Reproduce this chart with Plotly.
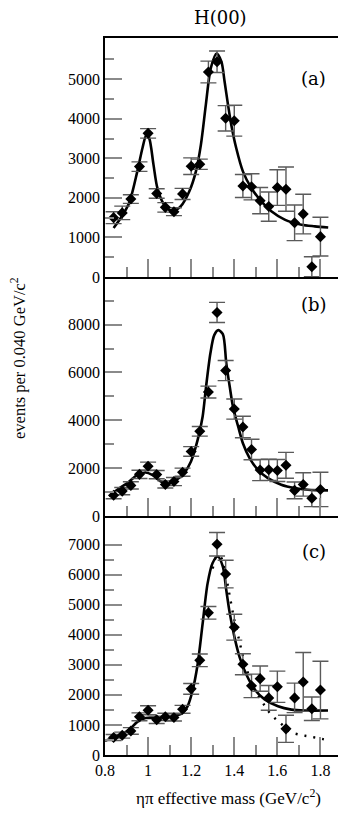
import plotly.graph_objects as go
from plotly.subplots import make_subplots

# bin centres (GeV/c^2), 0.040 wide bins
mass = [0.84, 0.88, 0.92, 0.96, 1.00, 1.04, 1.08, 1.12, 1.16, 1.20, 1.24, 1.28, 1.32,
        1.36, 1.40, 1.44, 1.48, 1.52, 1.56, 1.60, 1.64, 1.68, 1.72, 1.76, 1.80]

# panel (a)
events_a = [1500, 1620, 1970, 2790, 3630, 2110, 1760, 1650, 2100, 2800, 2850, 5180, 5440,
            4010, 3950, 2300, 2280, 1930, 1780, 2260, 2220, 1370, 1590, 260, 1020]
err_a = [150, 170, 110, 120, 120, 120, 120, 100, 140, 210, 130, 275, 270,
         320, 390, 290, 330, 330, 370, 450, 560, 450, 500, 250, 490]
fit_a_x = [0.84, 0.873, 0.912, 0.95, 0.974, 0.992, 1.005, 1.025, 1.043, 1.074, 1.113, 1.152,
           1.191, 1.222, 1.245, 1.268, 1.291, 1.318, 1.34, 1.355, 1.371, 1.386, 1.409, 1.44,
           1.479, 1.526, 1.572, 1.634, 1.712, 1.774, 1.836]
fit_a_y = [1240, 1490, 1870, 2670, 3260, 3590, 3510, 2840, 2250, 1830, 1660, 1790,
           2160, 2670, 3340, 4350, 5280, 5650, 5450, 4940, 4350, 3850, 3260, 2670,
           2250, 1910, 1660, 1450, 1320, 1280, 1250]

# panel (b)
events_b = [870, 1040, 1280, 1740, 2080, 1730, 1320, 1440, 1830, 2700, 3540, 5180, 8510,
            6080, 4470, 3720, 2780, 1920, 1930, 1900, 2120, 1070, 1320, 740, 1110]
err_b = [150, 150, 150, 170, 170, 170, 150, 170, 170, 200, 200, 250, 420,
         420, 420, 450, 430, 440, 440, 460, 540, 350, 490, 350, 720]
fit_b_x = [0.819, 0.857, 0.904, 0.95, 0.988, 1.019, 1.058, 1.089, 1.128, 1.167, 1.199,
           1.23, 1.253, 1.269, 1.289, 1.307, 1.326, 1.347, 1.363, 1.379, 1.394, 1.418,
           1.44, 1.471, 1.51, 1.556, 1.618, 1.68, 1.742, 1.835]
fit_b_y = [820, 1100, 1380, 1720, 1820, 1720, 1450, 1350, 1490, 1790, 2280,
           3180, 4150, 5400, 6790, 7560, 7770, 7600, 6380, 5400, 4570, 3740,
           3040, 2420, 1930, 1580, 1310, 1170, 1100, 1070]

# panel (c)
events_c = [580, 660, 800, 1270, 1490, 1170, 1270, 1250, 1520, 2200, 3150, 4730, 7010,
            6020, 4250, 3020, 2300, 2540, 1900, 2270, 870, 1900, 2430, 1540, 2160]
err_c = [100, 100, 110, 130, 150, 120, 120, 120, 130, 180, 210, 210, 390,
         460, 430, 350, 390, 420, 410, 520, 450, 490, 980, 390, 960]
fit_c_x = [0.80, 0.834, 0.873, 0.912, 0.95, 0.989, 1.027, 1.074, 1.121, 1.16, 1.183,
           1.206, 1.23, 1.253, 1.276, 1.299, 1.323, 1.347, 1.363, 1.378, 1.401, 1.425,
           1.456, 1.495, 1.541, 1.603, 1.665, 1.727, 1.835]
fit_c_y = [470, 560, 670, 840, 1100, 1230, 1230, 1250, 1290, 1400, 1620,
           2130, 3020, 4360, 5700, 6380, 6600, 6270, 5480, 4760, 3920, 3250,
           2680, 2180, 1850, 1620, 1510, 1480, 1480]
alt_c_x = [1.30, 1.32, 1.34, 1.36, 1.38, 1.40, 1.42, 1.44, 1.46, 1.48, 1.50, 1.533,
           1.57, 1.615, 1.657, 1.707, 1.746, 1.79, 1.83]
alt_c_y = [6200, 6620, 6550, 6000, 5250, 4500, 3900, 3300, 2800, 2400, 2100, 1730,
           1350, 1060, 780, 670, 620, 560, 500]

# y tick labels per panel
yticks_a = [0, 1000, 2000, 3000, 4000, 5000]
yticks_b = [0, 2000, 4000, 6000, 8000]
yticks_c = [0, 1000, 2000, 3000, 4000, 5000, 6000, 7000]
xtick_vals = [0.8, 1.0, 1.2, 1.4, 1.6, 1.8]
xtick_text = ["0.8", "1", "1.2", "1.4", "1.6", "1.8"]

panels = [
    ("(a)", events_a, err_a, fit_a_x, fit_a_y, 6040, yticks_a, 500),
    ("(b)", events_b, err_b, fit_b_x, fit_b_y, 9990, yticks_b, 1000),
    ("(c)", events_c, err_c, fit_c_x, fit_c_y, 7950, yticks_c, 500),
]

serif = "Liberation Serif"
tick_grey = "#8a8a8a"

fig = make_subplots(rows=3, cols=1, shared_xaxes=True, vertical_spacing=0)

for i, (label, ev, er, fx, fy, ymax, yt, half) in enumerate(panels):
    row = i + 1
    fig.add_trace(go.Scatter(
        x=fx, y=fy, mode="lines", line=dict(color="black", width=2.6, shape="spline", smoothing=0.8),
        showlegend=False, hoverinfo="skip"), row=row, col=1)
    if label == "(c)":
        fig.add_trace(go.Scatter(
            x=alt_c_x, y=alt_c_y, mode="lines",
            line=dict(color="black", width=2.4, dash="2px,7px", shape="spline"),
            showlegend=False, hoverinfo="skip"), row=row, col=1)
    fig.add_trace(go.Scatter(
        x=mass, y=ev, mode="markers",
        marker=dict(symbol="diamond", size=8.5, color="black"),
        error_y=dict(type="data", array=er, color="#5a5a5a", thickness=1.4, width=8),
        showlegend=False), row=row, col=1)

    # minor ticks halfway between the labelled ones
    minor_vals = [v + half for v in yt if v + half < ymax - 300]
    if label == "(c)":
        minor_vals = [v for v in minor_vals if v < 7000]
    fig.update_yaxes(
        range=[0, ymax], tickmode="array", tickvals=yt,
        ticktext=[str(v) for v in yt],
        ticks="inside", ticklen=17, tickwidth=2, tickcolor=tick_grey,
        minor=dict(tickmode="array", tickvals=minor_vals, ticks="inside",
                   ticklen=9, tickwidth=2, tickcolor=tick_grey),
        showline=True, linecolor="black", linewidth=1.5, mirror=True,
        showgrid=False, zeroline=False, automargin=False,
        tickfont=dict(family=serif, size=16, color="black"),
        row=row, col=1)

    # only the top panel mirrors its x line, so shared borders are drawn once
    fig.update_xaxes(
        range=[0.8, 1.9], tickmode="array", tickvals=xtick_vals, ticktext=xtick_text,
        ticks="inside", ticklen=18, tickwidth=2, tickcolor=tick_grey,
        minor=dict(dtick=0.1, tick0=0.8, ticks="inside", ticklen=10, tickwidth=2,
                   tickcolor=tick_grey),
        showline=True, linecolor="black", linewidth=1.5, mirror=(row == 1),
        showgrid=False, zeroline=False, showticklabels=(row == 3), automargin=False,
        tickfont=dict(family=serif, size=16, color="black"),
        row=row, col=1)

# panel letters
for label, ypos in [("(a)", 0.943), ("(b)", 0.6286), ("(c)", 0.2835)]:
    fig.add_annotation(text=label, xref="paper", yref="paper", x=0.881, y=ypos,
                       xanchor="center", yanchor="middle", showarrow=False,
                       font=dict(family="DejaVu Serif", size=18, color="black"))

fig.add_annotation(text="H(00)", xref="paper", yref="paper", x=0.489, y=1.028,
                   xanchor="center", yanchor="middle", showarrow=False,
                   font=dict(family="DejaVu Serif", size=18, color="black"))
fig.add_annotation(text="ηπ effective mass (GeV/c<sup>2</sup>)", xref="paper", yref="paper",
                   x=0.52, y=-0.059, xanchor="center", yanchor="middle", showarrow=False,
                   font=dict(family=serif, size=17, color="black"))
fig.add_annotation(text="events per 0.040 GeV/c<sup>2</sup>", xref="paper", yref="paper",
                   x=-0.362, y=0.554, xanchor="center", yanchor="middle",
                   textangle=-90, showarrow=False,
                   font=dict(family=serif, size=16.5, color="black"))

# the page body adds an 8px margin, so the figure is sized to sit inside the window
fig.update_layout(
    width=336, height=803,
    margin=dict(l=97, r=2, t=30, b=56),
    plot_bgcolor="white", paper_bgcolor="white",
)

fig.write_html("out.html")
